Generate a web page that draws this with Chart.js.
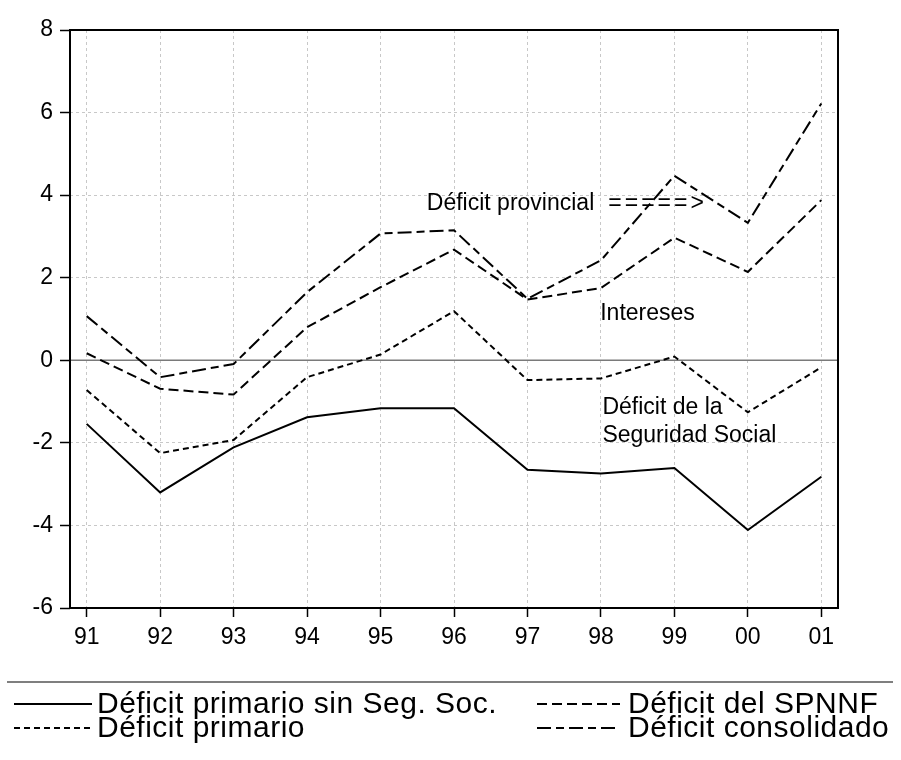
<!DOCTYPE html>
<html>
<head>
<meta charset="utf-8">
<script src="https://cdn.jsdelivr.net/npm/chart.js@4"></script>
<style>
  body { margin: 0; background: #fff; }
</style>
</head>
<body>
<canvas id="myChart" width="901" height="760"></canvas>
<script>
// years shown on the x axis
const tickLabels = ['91', '92', '93', '94', '95', '96', '97', '98', '99', '00', '01'];

// series, % of GDP
const primarioSinSS = [-1.54, -3.2, -2.11, -1.38, -1.16, -1.16, -2.65, -2.74, -2.61, -4.11, -2.82];
const primario = [-0.72, -2.25, -1.93, -0.41, 0.14, 1.19, -0.48, -0.44, 0.09, -1.26, -0.17];
const spnnf = [0.17, -0.69, -0.83, 0.8, 1.77, 2.68, 1.47, 1.75, 2.97, 2.14, 3.88];
const consolidado = [1.07, -0.41, -0.09, 1.65, 3.07, 3.15, 1.49, 2.42, 4.47, 3.33, 6.22];

const seriesNames = ['Déficit primario sin Seg. Soc.', 'Déficit primario', 'Déficit del SPNNF', 'Déficit consolidado'];

// text notes inside the plot, placed in data units
const notes = [
  { text: 'Déficit provincial', x: 4.63, y: 3.8 },
  { text: '=====>', x: 7.1, y: 3.8, spacing: 3 },
  { text: 'Intereses', x: 6.99, y: 1.13 },
  { text: 'Déficit de la', x: 7.02, y: -1.15 },
  { text: 'Seguridad Social', x: 7.02, y: -1.83 }
];

function points(arr) {
  return arr.map((v, i) => ({ x: i, y: v }));
}

const FONT = '"Liberation Sans", Arial, sans-serif';

const framePlugin = {
  id: 'frame',
  beforeDatasetsDraw(chart) {
    const ctx = chart.ctx;
    const a = chart.chartArea;
    const y0 = chart.scales.y.getPixelForValue(0);
    ctx.save();
    ctx.strokeStyle = '#7a7a7a';
    ctx.lineWidth = 1.5;
    ctx.beginPath();
    ctx.moveTo(a.left, y0);
    ctx.lineTo(a.right, y0);
    ctx.stroke();
    ctx.strokeStyle = '#000';
    ctx.lineWidth = 2;
    ctx.strokeRect(a.left, a.top, a.right - a.left, a.bottom - a.top);
    ctx.restore();
  },
  afterDraw(chart) {
    const ctx = chart.ctx;
    const xs = chart.scales.x, ys = chart.scales.y;
    ctx.save();
    // notes
    ctx.fillStyle = '#000';
    ctx.font = '23px ' + FONT;
    ctx.textBaseline = 'middle';
    ctx.textAlign = 'left';
    notes.forEach(n => {
      ctx.letterSpacing = (n.spacing || 0) + 'px';
      ctx.fillText(n.text, xs.getPixelForValue(n.x), ys.getPixelForValue(n.y));
    });

    // legend
    ctx.letterSpacing = '0px';
    ctx.strokeStyle = '#555';
    ctx.lineWidth = 1.5;
    ctx.beginPath();
    ctx.moveTo(7, 682);
    ctx.lineTo(893, 682);
    ctx.stroke();

    const slots = [
      { ds: 0, x: 14, w: 78, tx: 97, y: 704 },
      { ds: 2, x: 537, w: 83, tx: 628, y: 704 },
      { ds: 1, x: 14, w: 78, tx: 97, y: 728 },
      { ds: 3, x: 537, w: 83, tx: 628, y: 728 }
    ];
    ctx.font = '30px ' + FONT;
    ctx.textBaseline = 'middle';
    slots.forEach(s => {
      const d = chart.data.datasets[s.ds];
      ctx.strokeStyle = '#000';
      ctx.lineWidth = 2;
      ctx.setLineDash(d.borderDash || []);
      ctx.beginPath();
      ctx.moveTo(s.x, s.y);
      ctx.lineTo(s.x + s.w, s.y);
      ctx.stroke();
      ctx.setLineDash([]);
      ctx.letterSpacing = '0.5px';
      ctx.fillText(d.label, s.tx, s.y + 1);
    });
    ctx.restore();
  }
};

new Chart(document.getElementById('myChart'), {
  type: 'line',
  data: {
    datasets: [
      { label: seriesNames[0], data: points(primarioSinSS), borderColor: '#000', borderWidth: 2, borderDash: [] },
      { label: seriesNames[1], data: points(primario), borderColor: '#000', borderWidth: 2, borderDash: [6, 4] },
      { label: seriesNames[2], data: points(spnnf), borderColor: '#000', borderWidth: 2, borderDash: [10, 5] },
      { label: seriesNames[3], data: points(consolidado), borderColor: '#000', borderWidth: 2, borderDash: [14, 5, 8, 5] }
    ]
  },
  options: {
    responsive: false,
    animation: false,
    events: [],
    elements: { point: { radius: 0 }, line: { tension: 0 } },
    layout: { padding: { top: 30, right: 63, bottom: 107, left: 0 } },
    plugins: { legend: { display: false }, tooltip: { enabled: false } },
    scales: {
      x: {
        type: 'linear',
        min: -0.227,
        max: 10.227,
        afterBuildTicks: s => { s.ticks = tickLabels.map((_, i) => ({ value: i })); },
        afterFit: s => { s.height = 45; },
        ticks: {
          autoSkip: false,
          maxRotation: 0,
          padding: 7,
          color: '#000',
          font: { family: FONT, size: 23 },
          callback: v => tickLabels[v]
        },
        grid: { color: '#c8c8c8', lineWidth: 1, tickLength: 9, tickColor: '#000', tickWidth: 1.5 },
        border: { display: false, dash: [3, 3] }
      },
      y: {
        min: -6,
        max: 8,
        afterFit: s => { s.width = 70; },
        ticks: {
          stepSize: 2,
          padding: 7,
          color: '#000',
          font: { family: FONT, size: 23 }
        },
        grid: { color: '#c8c8c8', lineWidth: 1, tickLength: 10, tickColor: '#000', tickWidth: 1.5 },
        border: { display: false, dash: [3, 3] }
      }
    }
  },
  plugins: [framePlugin]
});
</script>
</body>
</html>
